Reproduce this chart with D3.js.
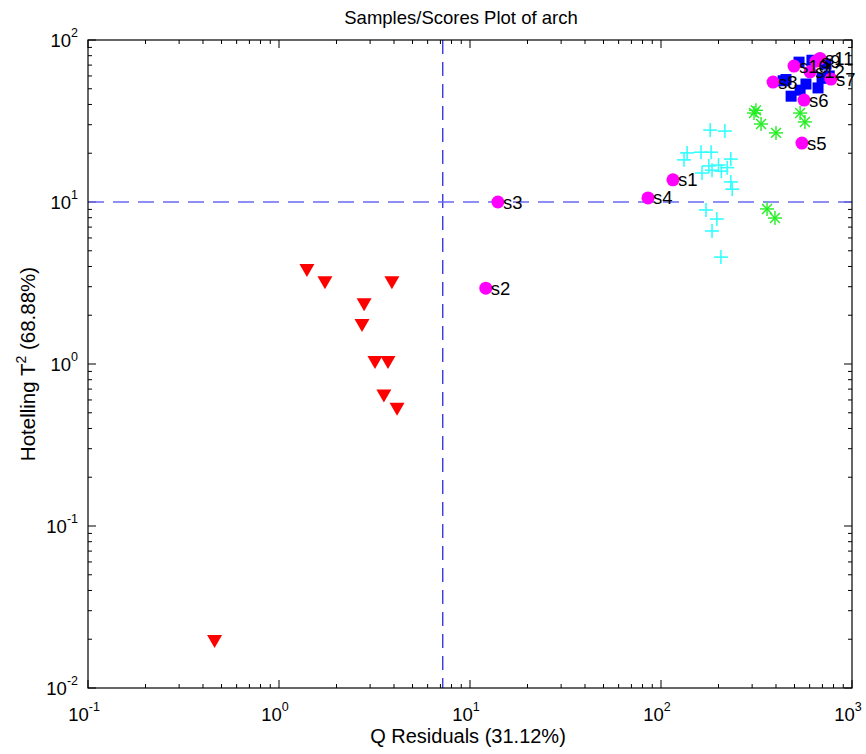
<!DOCTYPE html>
<html>
<head>
<meta charset="utf-8">
<script src="https://cdn.jsdelivr.net/npm/d3@7"></script>
<style>
  body { margin: 0; background: #fff; }
  text { font-family: "Liberation Sans", Arial, sans-serif; }
</style>
</head>
<body>
<svg id="chart" width="866" height="754"></svg>
<script>
// class 1: red triangles  [Q, T2]
const class1Q = [1.40, 1.74, 3.9, 2.79, 2.72, 3.18, 3.72, 3.54, 4.15, 0.46];
const class1T = [3.8, 3.2, 3.2, 2.34, 1.74, 1.03, 1.03, 0.64, 0.53, 0.0195];

// class 2: cyan plus
const class2Q = [181, 216, 137, 162, 183, 132, 232, 178, 200, 222, 185, 164, 207, 232, 236, 172, 196, 185, 206];
const class2T = [27.8, 27.4, 20.1, 20.3, 20.3, 18.2, 18.4, 16.7, 16.9, 16.3, 15.7, 15.1, 15.5, 13.3, 12.0, 8.93, 7.85, 6.62, 4.57];

// class 3: green asterisk
const class3Q = [307, 314, 334, 400, 535, 567, 359, 395];
const class3T = [35.4, 36.8, 30.3, 26.7, 35.4, 31.2, 9.06, 7.96];

// class 4: blue squares
const class4Q = [451, 480, 528, 617, 574, 664, 731, 697, 535, 436, 760];
const class4T = [57, 45, 73, 75, 53.5, 50.6, 71, 58, 49, 56, 60];

// test samples: magenta circles with names
const sampleNames = ["s1", "s2", "s3", "s4", "s5", "s6", "s8", "s12", "s10", "s9", "s11", "s7"];
const sampleQ = [115.5, 12.1, 14.0, 85.5, 547, 561, 386, 603, 497, 648, 680, 776];
const sampleT = [13.7, 2.94, 10.0, 10.6, 23.1, 42.6, 55, 63.6, 69, 74, 77, 57.4];

// limits
const qLimit = 7.2;
const tLimit = 10;

const xTicks = [-1, 0, 1, 2, 3];
const yTicks = [-2, -1, 0, 1, 2];

const svg = d3.select("#chart");
const margin = { left: 88, right: 14, top: 40, bottom: 66 };
const width = 866 - margin.left - margin.right;
const height = 754 - margin.top - margin.bottom;

const x = d3.scaleLog().domain([0.1, 1000]).range([0, width]);
const y = d3.scaleLog().domain([0.01, 100]).range([height, 0]);

const g = svg.append("g")
  .attr("transform", "translate(" + margin.left + "," + margin.top + ")");

// ticks on all sides, pointing inward
const minor = [];
for (let e = -2; e < 3; e++) {
  for (let k = 2; k <= 9; k++) minor.push(k * Math.pow(10, e));
}
const xMinor = minor.filter((v) => v > 0.1 && v < 1000);
const yMinor = minor.filter((v) => v > 0.01 && v < 100);
const xMajor = xTicks.map((e) => Math.pow(10, e));
const yMajor = yTicks.map((e) => Math.pow(10, e));

const ticks = g.append("g").attr("stroke", "#000").attr("stroke-width", 1);
function addXTicks(vals, len) {
  vals.forEach((v) => {
    const px = x(v);
    ticks.append("line").attr("x1", px).attr("x2", px).attr("y1", height).attr("y2", height - len);
    ticks.append("line").attr("x1", px).attr("x2", px).attr("y1", 0).attr("y2", len);
  });
}
function addYTicks(vals, len) {
  vals.forEach((v) => {
    const py = y(v);
    ticks.append("line").attr("x1", 0).attr("x2", len).attr("y1", py).attr("y2", py);
    ticks.append("line").attr("x1", width).attr("x2", width - len).attr("y1", py).attr("y2", py);
  });
}
addXTicks(xMajor, 8);
addXTicks(xMinor, 4);
addYTicks(yMajor, 8);
addYTicks(yMinor, 4);

// limit lines
g.append("line")
  .attr("x1", x(qLimit)).attr("x2", x(qLimit))
  .attr("y1", 0).attr("y2", height)
  .attr("stroke", "#2a2ad8").attr("stroke-width", 1.3)
  .attr("stroke-dasharray", "14,8");
g.append("line")
  .attr("x1", 0).attr("x2", width)
  .attr("y1", y(tLimit)).attr("y2", y(tLimit))
  .attr("stroke", "#6a6af5").attr("stroke-width", 1.6)
  .attr("stroke-dasharray", "16,9");

// class 3 green asterisks
const ast = g.append("g").attr("stroke", "#22ee22").attr("stroke-width", 1.4);
class3Q.forEach((q, i) => {
  const px = x(q), py = y(class3T[i]), r = 7;
  for (let a = 0; a < 4; a++) {
    const ang = a * Math.PI / 4;
    ast.append("line")
      .attr("x1", px - r * Math.cos(ang)).attr("x2", px + r * Math.cos(ang))
      .attr("y1", py - r * Math.sin(ang)).attr("y2", py + r * Math.sin(ang));
  }
});

// class 2 cyan plus
const plus = g.append("g").attr("stroke", "#33ffff").attr("stroke-width", 1.6);
class2Q.forEach((q, i) => {
  const px = x(q), py = y(class2T[i]), r = 7;
  plus.append("line").attr("x1", px - r).attr("x2", px + r).attr("y1", py).attr("y2", py);
  plus.append("line").attr("x1", px).attr("x2", px).attr("y1", py - r).attr("y2", py + r);
});

// class 1 red triangles
g.append("g").selectAll("path")
  .data(class1Q.map((q, i) => [q, class1T[i]]))
  .join("path")
  .attr("d", (d) => {
    const px = x(d[0]), py = y(d[1]);
    return "M" + (px - 7.5) + "," + (py - 6) + "L" + (px + 7.5) + "," + (py - 6) + "L" + px + "," + (py + 7) + "Z";
  })
  .attr("fill", "#ff0000");

// class 4 blue squares
g.append("g").selectAll("rect")
  .data(class4Q.map((q, i) => [q, class4T[i]]))
  .join("rect")
  .attr("x", (d) => x(d[0]) - 5.5)
  .attr("y", (d) => y(d[1]) - 5.5)
  .attr("width", 11).attr("height", 11)
  .attr("fill", "#0000ff");

// samples
const samples = sampleQ.map((q, i) => ({ q: q, t: sampleT[i], name: sampleNames[i] }));
g.append("g").selectAll("circle")
  .data(samples)
  .join("circle")
  .attr("cx", (d) => x(d.q))
  .attr("cy", (d) => y(d.t))
  .attr("r", 6.5)
  .attr("fill", "#ff00ff");
g.append("g").selectAll("text")
  .data(samples)
  .join("text")
  .attr("x", (d) => x(d.q) + 5)
  .attr("y", (d) => y(d.t) + 6.5)
  .attr("font-size", 18.5)
  .attr("fill", "#000")
  .text((d) => d.name);

// frame
g.append("rect")
  .attr("width", width).attr("height", height)
  .attr("fill", "none").attr("stroke", "#000").attr("stroke-width", 1.2);

// tick labels
function powLabel(sel, e) {
  sel.append("tspan").text("10");
  sel.append("tspan").attr("dy", -10).attr("font-size", 12.5).text(e);
}
xTicks.forEach((e) => {
  const t = g.append("text")
    .attr("x", x(Math.pow(10, e)) - 4)
    .attr("y", height + 33)
    .attr("text-anchor", "middle")
    .attr("font-size", 18.5);
  powLabel(t, e);
});
yTicks.forEach((e) => {
  const t = g.append("text")
    .attr("x", -10)
    .attr("y", y(Math.pow(10, e)) + 7)
    .attr("text-anchor", "end")
    .attr("font-size", 18.5);
  powLabel(t, e);
});

// title and axis labels
svg.append("text")
  .attr("x", 461)
  .attr("y", 24)
  .attr("text-anchor", "middle")
  .attr("font-size", 18.5)
  .text("Samples/Scores Plot of arch");

svg.append("text")
  .attr("x", 468)
  .attr("y", 743)
  .attr("text-anchor", "middle")
  .attr("font-size", 20)
  .text("Q Residuals (31.12%)");

const yl = svg.append("text")
  .attr("transform", "translate(35," + (margin.top + height / 2) + ") rotate(-90)")
  .attr("text-anchor", "middle")
  .attr("font-size", 20.5);
yl.append("tspan").text("Hotelling T");
yl.append("tspan").attr("dy", -9).attr("font-size", 14).text("2");
yl.append("tspan").attr("dy", 9).text(" (68.88%)");
</script>
</body>
</html>
